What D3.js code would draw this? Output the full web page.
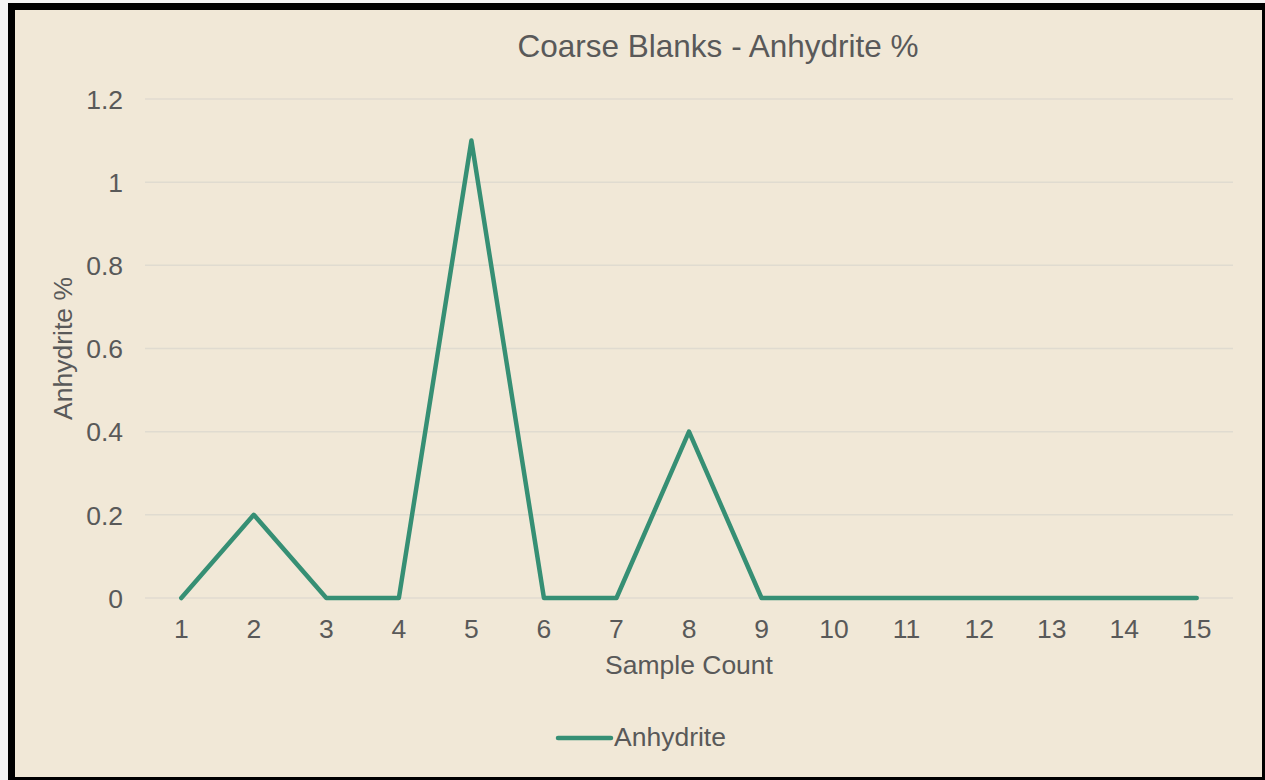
<!DOCTYPE html>
<html><head><meta charset="utf-8">
<script src="https://cdn.jsdelivr.net/npm/d3@7"></script>
<style>html,body{margin:0;padding:0;background:#fff;}svg{display:block;}</style>
</head><body>
<svg id="chart" width="1265" height="780"></svg>
<script>
const categories = ["1","2","3","4","5","6","7","8","9","10","11","12","13","14","15"];
const anhydrite = [0, 0.2, 0, 0, 1.1, 0, 0, 0.4, 0, 0, 0, 0, 0, 0, 0];
const yTicks = [0, 0.2, 0.4, 0.6, 0.8, 1, 1.2];
const seriesName = "Anhydrite";
const titleText = "Coarse Blanks - Anhydrite %";
const xTitle = "Sample Count";
const yTitle = "Anhydrite %";

const svg = d3.select("#chart");
const W = 1265, H = 780;
const font = "'Liberation Sans', Arial, sans-serif";
const textColor = "#595959";
const lineColor = "#368f74";
const fs = 26.5;

// outer light strip and frame
svg.append("rect").attr("x",0).attr("y",0).attr("width",W).attr("height",H).attr("fill","#f4f4f4");
svg.append("rect").attr("x",8).attr("y",3).attr("width",W-8).attr("height",H-3).attr("fill","#000");
svg.append("rect").attr("x",15).attr("y",10).attr("width",1262-15).attr("height",777-10).attr("fill","#f1e8d7");

const plot = {left:145, right:1233, top:99, bottom:598};
const x = d3.scaleBand().domain(categories).range([plot.left, plot.right]);
const y = d3.scaleLinear().domain([0,1.2]).range([plot.bottom, plot.top]);

// gridlines
svg.append("g").selectAll("line").data(yTicks).join("line")
  .attr("x1",plot.left).attr("x2",plot.right)
  .attr("y1",d=>y(d)).attr("y2",d=>y(d))
  .attr("stroke","#e0dbd0").attr("stroke-width",1.5);

// y axis labels
const yAxis = d3.axisLeft(y).tickValues(yTicks).tickSize(0).tickPadding(0).tickFormat(d=>String(d));
const gy = svg.append("g").attr("transform",`translate(123,0)`).call(yAxis);
gy.select(".domain").remove();
gy.selectAll("text").attr("font-family",font).attr("font-size",fs).attr("fill",textColor).attr("dy","0.35em");

// x axis labels
const xAxis = d3.axisBottom(x).tickSize(0).tickPadding(0);
const gx = svg.append("g").attr("transform",`translate(0,${plot.bottom})`).call(xAxis);
gx.select(".domain").remove();
gx.selectAll("text").attr("font-family",font).attr("font-size",fs).attr("fill",textColor).attr("dy",null).attr("y",33).attr("dominant-baseline","middle");

// line
const line = d3.line().x((d,i)=>x(categories[i])+x.bandwidth()/2).y(d=>y(d));
svg.append("path").datum(anhydrite).attr("d",line)
  .attr("fill","none").attr("stroke",lineColor).attr("stroke-width",4.5)
  .attr("stroke-linejoin","round").attr("stroke-linecap","round");

// title
svg.append("text").attr("x",718).attr("y",49).attr("text-anchor","middle").attr("dominant-baseline","middle")
  .attr("font-family",font).attr("font-size",31.5).attr("fill",textColor).text(titleText);

// axis titles
svg.append("text").attr("x",(plot.left+plot.right)/2).attr("y",667).attr("text-anchor","middle").attr("dominant-baseline","middle")
  .attr("font-family",font).attr("font-size",fs).attr("fill",textColor).text(xTitle);
svg.append("text").attr("transform",`translate(65,${(plot.top+plot.bottom)/2}) rotate(-90)`)
  .attr("text-anchor","middle").attr("dominant-baseline","middle")
  .attr("font-family",font).attr("font-size",fs).attr("fill",textColor).text(yTitle);

// legend
const lg = svg.append("g");
lg.append("line").attr("x1",558).attr("x2",611).attr("y1",738).attr("y2",738)
  .attr("stroke",lineColor).attr("stroke-width",4.5).attr("stroke-linecap","round");
lg.append("text").attr("x",614).attr("y",739).attr("dominant-baseline","middle")
  .attr("font-family",font).attr("font-size",fs).attr("fill",textColor).text(seriesName);
</script>
</body></html>
